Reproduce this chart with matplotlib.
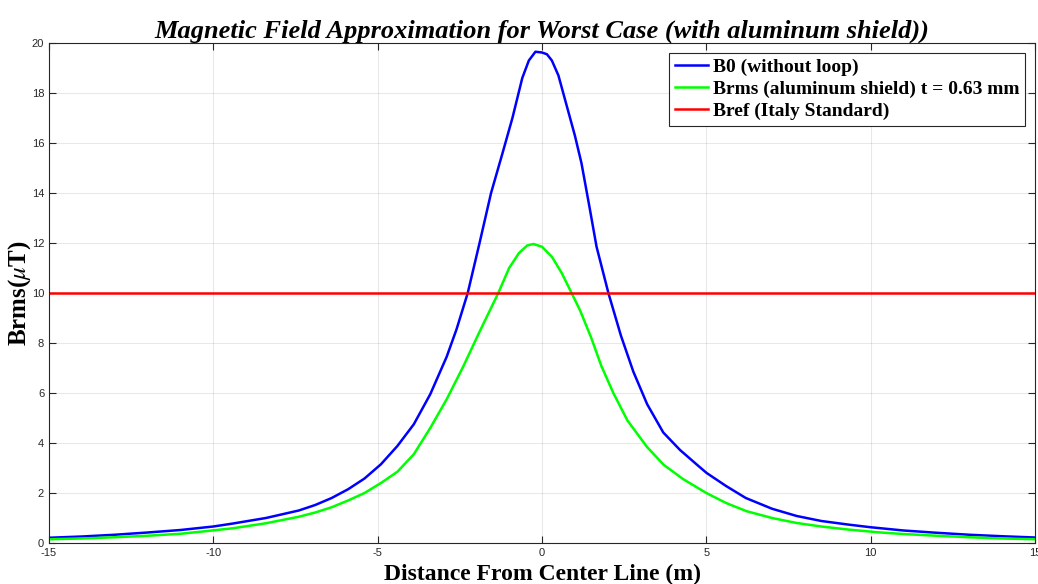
import matplotlib
matplotlib.use("Agg")
import matplotlib.pyplot as plt
from matplotlib.font_manager import FontProperties

# ---- data ----
b0_x = [-15, -14, -13, -12, -11, -10, -9.4, -8.4, -7.4, -6.9, -6.4, -5.9, -5.4, -4.9,
        -4.4, -3.9, -3.4, -2.9, -2.6, -2.26, -1.9, -1.55, -1.2, -0.9, -0.6, -0.4, -0.2,
        0.0, 0.15, 0.3, 0.5, 0.75, 1.0, 1.2, 1.45, 1.66, 2.02, 2.4, 2.78, 3.2, 3.69,
        4.2, 4.76, 5.01, 5.6, 6.2, 7.0, 7.75, 8.5, 9.3, 10.0, 11, 12, 13, 14, 15]
b0_y = [0.21, 0.26, 0.33, 0.42, 0.52, 0.66, 0.78, 1.0, 1.3, 1.52, 1.8, 2.15, 2.58, 3.15,
        3.88, 4.75, 5.95, 7.45, 8.55, 10.0, 12.0, 14.0, 15.6, 17.0, 18.6, 19.3, 19.65,
        19.62, 19.55, 19.3, 18.7, 17.5, 16.3, 15.2, 13.4, 11.85, 10.0, 8.3, 6.85, 5.55, 4.42,
        3.72, 3.08, 2.8, 2.28, 1.8, 1.37, 1.08, 0.88, 0.74, 0.63, 0.5, 0.41, 0.33, 0.27, 0.22]

brms_x = [-15, -14, -13, -12, -11, -10.4, -9.4, -8.4, -7.4, -6.9, -6.4, -5.9, -5.4, -4.9,
          -4.4, -3.9, -3.4, -2.9, -2.4, -1.9, -1.33, -1.0, -0.7, -0.45, -0.26, 0.0, 0.3,
          0.6, 0.9, 1.16, 1.5, 1.8, 2.17, 2.6, 3.19, 3.7, 4.3, 5.0, 5.6, 6.23, 7.0, 7.75,
          8.5, 9.3, 10.3, 11, 12, 13, 14, 15]
brms_y = [0.15, 0.18, 0.23, 0.29, 0.37, 0.45, 0.59, 0.79, 1.05, 1.22, 1.43, 1.7, 2.0, 2.4,
          2.85, 3.55, 4.6, 5.75, 7.05, 8.45, 10.0, 11.0, 11.6, 11.9, 11.96, 11.85, 11.45,
          10.8, 10.0, 9.3, 8.2, 7.1, 6.0, 4.9, 3.85, 3.13, 2.55, 2.0, 1.6, 1.27, 1.0, 0.8,
          0.66, 0.54, 0.42, 0.36, 0.29, 0.23, 0.18, 0.15]

bref_x = [-15, 15]
bref_y = [10, 10]

labels = ["B0 (without loop)", "Brms (aluminum shield) t = 0.63 mm", "Bref (Italy Standard)"]
xticks = [-15, -10, -5, 0, 5, 10, 15]
yticks = [0, 2, 4, 6, 8, 10, 12, 14, 16, 18, 20]

plt.rcParams['mathtext.fontset'] = 'stix'
plt.rcParams['axes.unicode_minus'] = False

dark = (0.15, 0.15, 0.15)

fig = plt.figure(figsize=(10.38, 5.84), dpi=100)
ax = fig.add_axes([49/1038, 41/584, (1035-49)/1038, (543-43)/584])

ax.plot(b0_x, b0_y, color=(0, 0, 1), lw=1.8, label=labels[0])
ax.plot(brms_x, brms_y, color=(0, 1, 0), lw=1.8, label=labels[1])
ax.plot(bref_x, bref_y, color=(1, 0, 0), lw=1.8, label=labels[2])

ax.set_xlim(-15, 15)
ax.set_ylim(0, 20)
ax.set_xticks(xticks)
ax.set_yticks(yticks)
ax.grid(True, color=dark, alpha=0.1, lw=0.8)
ax.set_axisbelow(True)
ax.tick_params(direction='in', top=True, right=True, length=5, width=0.8,
               colors=dark, labelsize=8, labelcolor=dark)
for lbl in ax.get_xticklabels() + ax.get_yticklabels():
    lbl.set_family('Liberation Sans')
for s in ax.spines.values():
    s.set_color(dark)
    s.set_linewidth(0.8)

ax.set_title("Magnetic Field Approximation for Worst Case (with aluminum shield))",
             fontproperties=FontProperties(family='Liberation Serif', weight='bold',
                                           style='italic', size=19), pad=4)
ax.set_xlabel("Distance From Center Line (m)", family='Liberation Serif',
              fontweight='bold', fontsize=17, labelpad=4)
ax.set_ylabel(r"Brms($\mu$T)", family='Liberation Serif', fontweight='bold',
              fontsize=18, labelpad=-1)

leg = ax.legend(loc='upper right',
                prop=FontProperties(family='Liberation Serif', weight='bold', size=14),
                handlelength=1.7, handletextpad=0.25, borderpad=0.3, labelspacing=0.22,
                fancybox=False, framealpha=1, borderaxespad=0.5)
leg.get_frame().set_edgecolor(dark)
leg.get_frame().set_linewidth(0.8)

fig.savefig("out.png", dpi=100)
